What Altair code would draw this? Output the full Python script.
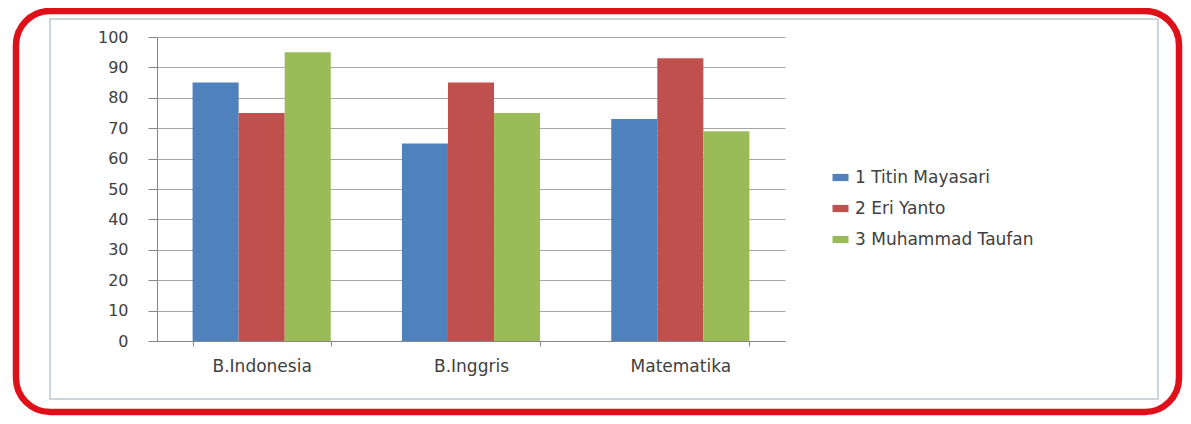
import altair as alt
import pandas as pd

subjects = ["B.Indonesia", "B.Inggris", "Matematika"]
students = ["1 Titin Mayasari", "2 Eri Yanto", "3 Muhammad Taufan"]
titin = [85, 65, 73]
eri = [75, 85, 93]
taufan = [95, 75, 69]
colors = ["#4F81BD", "#C0504D", "#9BBB59"]
y_ticks = list(range(0, 101, 10))

rows = []
for name, vals in zip(students, [titin, eri, taufan]):
    for s, v in zip(subjects, vals):
        rows.append({"Mapel": s, "Siswa": name, "Nilai": v})
df = pd.DataFrame(rows)

FONT = "DejaVu Sans"
TXT = "#404040"
AX = "#868686"

bars = alt.Chart(df).mark_bar().encode(
    x=alt.X("Mapel:N", sort=subjects,
            scale=alt.Scale(paddingInner=0.34, paddingOuter=0.17),
            axis=alt.Axis(title=None, labelAngle=0, tickBand="extent", tickSize=5,
                          labelPadding=12, labelFontSize=17, labelFont=FONT,
                          labelColor=TXT, domainColor=AX, tickColor=AX, grid=False)),
    xOffset=alt.XOffset("Siswa:N", sort=students,
                        scale=alt.Scale(paddingInner=0, paddingOuter=0)),
    y=alt.Y("Nilai:Q", scale=alt.Scale(domain=[0, 100]),
            axis=alt.Axis(title=None, values=y_ticks, tickSize=9, labelPadding=20,
                          labelFontSize=16, labelFont=FONT, labelColor=TXT,
                          domainColor=AX, tickColor=AX, grid=True, gridColor="#a6a6a6")),
    color=alt.Color("Siswa:N", sort=students,
                    scale=alt.Scale(domain=students, range=colors),
                    legend=alt.Legend(title=None, orient="none", legendX=675, legendY=132,
                                      symbolType="M-1,-0.45H1V0.45H-1Z", symbolSize=256,
                                      symbolStrokeWidth=0, labelFontSize=17, labelFont=FONT,
                                      labelColor=TXT, rowPadding=13, padding=0, labelOffset=6,
                                      labelLimit=0)),
)

one = alt.Data(values=[{"k": 1}])
gray = alt.Chart(one).mark_rect(fill="white", fillOpacity=0, stroke="#bcc8ce", strokeWidth=1.5).encode(
    x=alt.value(-107), x2=alt.value(1001), y=alt.value(-18), y2=alt.value(362))
red = alt.Chart(one).mark_rect(fill="white", fillOpacity=0, stroke="#E0101A", strokeWidth=6.5,
                               cornerRadius=34).encode(
    x=alt.value(-141), x2=alt.value(1022), y=alt.value(-26), y2=alt.value(375))

chart = alt.layer(gray, bars, red).properties(
    width=628, height=304,
    autosize=alt.AutoSizeParams(type="none"),
    padding={"left": 149, "top": 29, "right": 398, "bottom": 75},
    background="white",
).configure_view(stroke=None)

chart.save("out.html", embed_options={"renderer": "svg", "actions": False})
